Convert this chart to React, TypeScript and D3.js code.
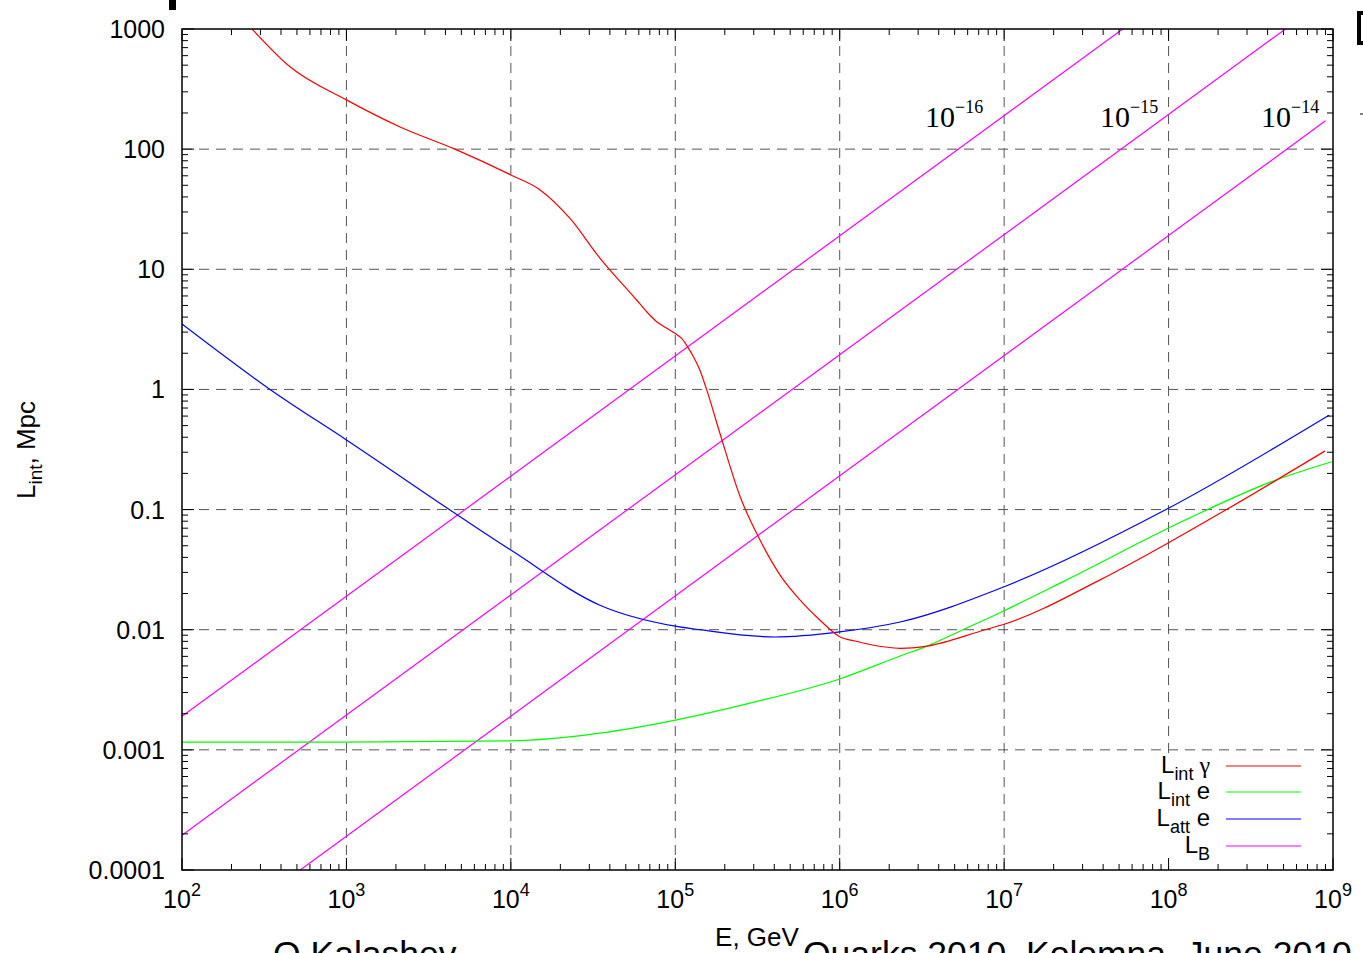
import React from "react";
import * as d3 from "d3";

const W = 1363;
const H = 953;

// Axis ticks
const xDecades = [1e2, 1e3, 1e4, 1e5, 1e6, 1e7, 1e8, 1e9];
const xExponents = ["2", "3", "4", "5", "6", "7", "8", "9"];
const yDecades = [1e-4, 1e-3, 1e-2, 1e-1, 1, 10, 100, 1000];
const yTickLabels = ["0.0001", "0.001", "0.01", "0.1", "1", "10", "100", "1000"];
const minorMultipliers = [2, 3, 4, 5, 6, 7, 8, 9];

// L_int gamma (red)
const redE = [267, 454, 1000, 2120, 4570, 10000, 15000, 22900, 34800, 58200, 67000, 77100, 88700, 99600, 109000, 117000, 129000, 141000, 155000, 187000, 248000, 327000, 434000, 573000, 759000, 1000000, 1240000, 1530000, 2330000, 3400000, 7660000, 10000000, 38300000, 100000000, 225000000, 893000000];
const redL = [1000, 485, 257, 153, 100, 61, 46, 26.5, 12.4, 5.55, 4.43, 3.66, 3.23, 2.93, 2.67, 2.34, 1.87, 1.45, 1.0, 0.43, 0.128, 0.056, 0.0285, 0.0177, 0.012, 0.00875, 0.00805, 0.00753, 0.0070, 0.0073, 0.01, 0.0111, 0.026, 0.053, 0.1, 0.307];

// L_int e (green)
const greenE = [100, 1000, 10000, 34800, 100000, 285000, 1000000, 2330000, 3400000, 5620000, 10000000, 24000000, 129000000, 434000000, 982000000];
const greenL = [0.00116, 0.00116, 0.00119, 0.00138, 0.00177, 0.00245, 0.00389, 0.00604, 0.0073, 0.01, 0.0144, 0.026, 0.083, 0.173, 0.25];

// L_att e (blue)
const blueE = [100, 343, 1000, 10000, 34800, 100000, 141000, 404000, 1000000, 2330000, 10000000, 96400000, 946000000];
const blueL = [3.5, 1, 0.38, 0.046, 0.016, 0.0107, 0.01, 0.0087, 0.0096, 0.0116, 0.0228, 0.1, 0.61];

// L_B (magenta) straight lines, start/end
const lbE = [100, 9e8];
const lbStartL = [0.0019, 0.000195, 0.0000191];
const lbEndL = [17100, 1750, 172];
const lbExponents = ["\u221216", "\u221215", "\u221214"];

const legendLabels = [
  { main: "L", sub: "int", rest: " \u03b3", color: "#ff0000" },
  { main: "L", sub: "int", rest: " e", color: "#00ff00" },
  { main: "L", sub: "att", rest: " e", color: "#0000ff" },
  { main: "L", sub: "B", rest: "", color: "#ff00ff" },
];

const SANS = "'Liberation Sans', Arial, Helvetica, sans-serif";
const SERIF = "'Liberation Serif', 'Times New Roman', serif";

export default function App() {
  const left = 182, right = 1333, top = 29, bottom = 870;
  const x = d3.scaleLog().domain([1e2, 1e9]).range([left, right]);
  const y = d3.scaleLog().domain([1e-4, 1e3]).range([bottom, top]);

  const line = d3
    .line<[number, number]>()
    .x((d) => x(d[0]))
    .y((d) => y(d[1]))
    .curve(d3.curveMonotoneX);
  const straight = d3
    .line<[number, number]>()
    .x((d) => x(d[0]))
    .y((d) => y(d[1]));

  const zip = (a: number[], b: number[]) => a.map((v, i) => [v, b[i]] as [number, number]);

  const xMinor: number[] = [];
  for (let i = 0; i < xDecades.length - 1; i++)
    minorMultipliers.forEach((m) => xMinor.push(xDecades[i] * m));
  const yMinor: number[] = [];
  for (let i = 0; i < yDecades.length - 1; i++)
    minorMultipliers.forEach((m) => yMinor.push(yDecades[i] * m));

  const gridColor = "#555";
  const dash = "10,7";
  const majorLen = 12;
  const minorLen = 6;

  const legendRowY = [766, 792, 819, 846];

  return (
    <svg
      width={W}
      height={H}
      style={{ position: "absolute", left: 0, top: 0, background: "#fff" }}
    >
      <defs>
        <clipPath id="plotclip">
          <rect x={left} y={top} width={right - left} height={bottom - top} />
        </clipPath>
      </defs>
      <rect x={0} y={0} width={W} height={H} fill="#fff" />

      {/* grid */}
      {xDecades.slice(1, -1).map((v, i) => (
        <line key={"gx" + i} x1={x(v)} x2={x(v)} y1={top} y2={bottom} stroke={gridColor} strokeWidth={1} strokeDasharray={dash} />
      ))}
      {yDecades.slice(1, -1).map((v, i) => (
        <line key={"gy" + i} x1={left} x2={right} y1={y(v)} y2={y(v)} stroke={gridColor} strokeWidth={1} strokeDasharray={dash} />
      ))}

      {/* opaque legend box */}
      <rect x={1140} y={753} width={170} height={113} fill="#fff" />

      {/* curves */}
      <g clipPath="url(#plotclip)" fill="none" strokeWidth={1.2}>
        {lbStartL.map((s, i) => (
          <path key={"lb" + i} d={straight(zip(lbE, [s, lbEndL[i]])) || ""} stroke="#ff00ff" />
        ))}
        <path d={line(zip(greenE, greenL)) || ""} stroke="#00ff00" />
        <path d={line(zip(blueE, blueL)) || ""} stroke="#0000ff" />
        <path d={line(zip(redE, redL)) || ""} stroke="#ff0000" />
      </g>

      {/* border */}
      <rect x={left} y={top} width={right - left} height={bottom - top} fill="none" stroke="#000" strokeWidth={1.5} />

      {/* ticks */}
      <g stroke="#000" strokeWidth={1}>
        {xDecades.map((v, i) => (
          <g key={"xt" + i}>
            <line x1={x(v)} x2={x(v)} y1={bottom} y2={bottom - majorLen} />
            <line x1={x(v)} x2={x(v)} y1={top} y2={top + majorLen} />
          </g>
        ))}
        {xMinor.map((v, i) => (
          <g key={"xm" + i}>
            <line x1={x(v)} x2={x(v)} y1={bottom} y2={bottom - minorLen} />
            <line x1={x(v)} x2={x(v)} y1={top} y2={top + minorLen} />
          </g>
        ))}
        {yDecades.map((v, i) => (
          <g key={"yt" + i}>
            <line x1={left} x2={left + majorLen} y1={y(v)} y2={y(v)} />
            <line x1={right} x2={right - majorLen} y1={y(v)} y2={y(v)} />
          </g>
        ))}
        {yMinor.map((v, i) => (
          <g key={"ym" + i}>
            <line x1={left} x2={left + minorLen} y1={y(v)} y2={y(v)} />
            <line x1={right} x2={right - minorLen} y1={y(v)} y2={y(v)} />
          </g>
        ))}
      </g>

      {/* y tick labels */}
      {yDecades.map((v, i) => (
        <text key={"yl" + i} x={165} y={y(v) + 9} textAnchor="end" fontFamily={SANS} fontSize={25} fill="#000">
          {yTickLabels[i]}
        </text>
      ))}

      {/* x tick labels */}
      {xDecades.map((v, i) => (
        <text key={"xl" + i} x={x(v)} y={908} textAnchor="middle" fontFamily={SANS} fontSize={25} fill="#000">
          <tspan>10</tspan>
          <tspan dy={-12} fontSize={18}>{xExponents[i]}</tspan>
        </text>
      ))}

      {/* axis titles */}
      <text x={757} y={946} textAnchor="middle" fontFamily={SANS} fontSize={26} fill="#000">
        E, GeV
      </text>
      <text transform="translate(35,450) rotate(-90)" textAnchor="middle" fontFamily={SANS} fontSize={26} fill="#000">
        <tspan>L</tspan>
        <tspan dy={7} fontSize={19}>int</tspan>
        <tspan dy={-7}>, Mpc</tspan>
      </text>

      {/* L_B labels */}
      {lbExponents.map((e, i) => (
        <text key={"lbl" + i} x={[925, 1100, 1261][i]} y={127} fontFamily={SERIF} fontSize={30} fill="#000">
          <tspan>10</tspan>
          <tspan dy={-14} fontSize={18}>{e}</tspan>
        </text>
      ))}

      {/* legend */}
      {legendLabels.map((l, i) => (
        <g key={"lg" + i}>
          <text x={1210} y={legendRowY[i] + 7} textAnchor="end" fontFamily={SANS} fontSize={24} fill="#000">
            <tspan>{l.main}</tspan>
            <tspan dy={7} fontSize={18}>{l.sub}</tspan>
            <tspan dy={-7} fontFamily={l.rest.includes("\u03b3") ? SERIF : SANS}>{l.rest}</tspan>
          </text>
          <line x1={1226} x2={1301} y1={legendRowY[i]} y2={legendRowY[i]} stroke={l.color} strokeWidth={1.2} />
        </g>
      ))}

      {/* footer text (cropped in the original slide) */}
      <text x={273} y={966} fontFamily={SANS} fontSize={35.5} fill="#000">O.Kalashev</text>
      <text x={803} y={966} fontFamily={SANS} fontSize={35.5} fill="#000">Quarks 2010, Kolomna, June 2010</text>

      {/* slide artifacts */}
      <rect x={169} y={0} width={7} height={10} fill="#000" />
      <path d="M1363,13 L1359,13 L1359,43 L1363,43" fill="none" stroke="#000" strokeWidth={4} />
      <line x1={1360} x2={1363} y1={114} y2={114} stroke="#000" strokeWidth={1} />
    </svg>
  );
}
